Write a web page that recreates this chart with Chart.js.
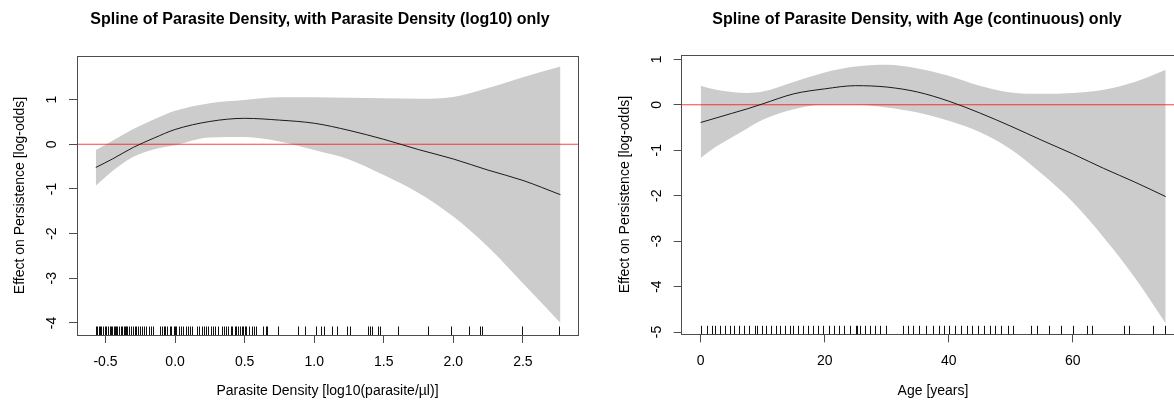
<!DOCTYPE html>
<html>
<head>
<meta charset="utf-8">
<script src="https://cdn.jsdelivr.net/npm/chart.js@4.4.1/dist/chart.umd.min.js"></script>
<style>
  html, body { margin: 0; padding: 0; background: #fff; }
  body { width: 1174px; height: 401px; overflow: hidden; position: relative; }
  canvas { position: absolute; top: 0; }
  #densityChart { left: 0; }
  #ageChart { left: 590px; }
</style>
</head>
<body>
<canvas id="densityChart" width="640" height="401"></canvas>
<canvas id="ageChart" width="654" height="401"></canvas>
<script>
// left panel: spline of log10 parasite density
var densityX     = [-0.57, -0.45, -0.3, -0.15, 0, 0.25, 0.5, 0.75, 1.0, 1.25, 1.5, 1.75, 2.0, 2.25, 2.5, 2.77];
var densityFit   = [-0.52, -0.33, -0.07, 0.14, 0.33, 0.51, 0.58, 0.54, 0.47, 0.31, 0.11, -0.12, -0.33, -0.58, -0.81, -1.13];
var densityUpper = [-0.13, 0.08, 0.34, 0.56, 0.75, 0.92, 0.99, 1.05, 1.05, 1.04, 1.03, 1.02, 1.06, 1.26, 1.50, 1.74];
var densityLower = [-0.93, -0.60, -0.28, -0.11, -0.02, 0.15, 0.16, 0.06, -0.13, -0.34, -0.69, -1.09, -1.62, -2.30, -3.11, -4.0];
var densityRug = [
  -0.572, -0.56, -0.55, -0.54, -0.53, -0.52, -0.505, -0.495, -0.48, -0.47, -0.46, -0.45,
  -0.44, -0.43, -0.425, -0.415, -0.40, -0.39, -0.38, -0.37, -0.36, -0.35, -0.345, -0.33,
  -0.32, -0.30, -0.29, -0.28, -0.265, -0.25, -0.24, -0.22, -0.21, -0.19, -0.175, -0.16,
  -0.11, -0.095, -0.08, -0.07, -0.055, -0.04, -0.03, -0.01, 0.0, 0.01, 0.03, 0.045,
  0.06, 0.08, 0.09, 0.105, 0.12, 0.155, 0.17, 0.19, 0.21, 0.22, 0.24, 0.26, 0.27, 0.29,
  0.31, 0.335, 0.35, 0.365, 0.38, 0.40, 0.41, 0.43, 0.44, 0.455, 0.47, 0.48, 0.49, 0.50,
  0.51, 0.53, 0.55, 0.565, 0.585, 0.635, 0.65, 0.66, 0.742, 0.886, 0.934, 1.011, 1.049,
  1.073, 1.126, 1.162, 1.234, 1.258, 1.389, 1.401, 1.414, 1.461, 1.473, 1.605, 1.821,
  1.984, 2.109, 2.193, 2.205, 2.493, 2.763
];
var densityTicksX = [-0.5, 0, 0.5, 1, 1.5, 2, 2.5];
var densityTicksY = [-4, -3, -2, -1, 0, 1];
var densityLimX = [-0.705, 2.896];
var densityLimY = [-4.27, 1.975];

// right panel: spline of age
var ageX     = [0, 2.5, 5, 7.5, 10, 15, 20, 25, 30, 35, 40, 45, 50, 55, 60, 65, 70, 75];
var ageFit   = [-0.39, -0.29, -0.19, -0.09, 0.02, 0.24, 0.35, 0.42, 0.39, 0.28, 0.08, -0.18, -0.47, -0.78, -1.08, -1.40, -1.70, -2.02];
var ageUpper = [0.42, 0.33, 0.28, 0.26, 0.29, 0.50, 0.71, 0.84, 0.88, 0.80, 0.64, 0.42, 0.27, 0.24, 0.26, 0.33, 0.50, 0.77];
var ageLower = [-1.17, -0.92, -0.72, -0.52, -0.33, -0.10, 0.0, 0.0, -0.06, -0.17, -0.35, -0.60, -0.98, -1.52, -2.14, -2.92, -3.80, -4.81];
var ageRug = [
  0.05, 0.97, 1.77, 2.31, 3.11, 3.92, 4.73, 5.42, 6.23, 6.98, 7.84, 8.76, 9.03, 9.84,
  10.53, 11.34, 12.15, 12.79, 13.6, 14.4, 14.94, 15.74, 16.55, 17.35, 18.16, 18.97,
  19.77, 20.74, 21.55, 22.35, 23.16, 24.08, 25.0, 25.16, 25.69, 26.5, 27.3, 28.1, 28.9,
  29.9, 32.68, 33.48, 34.3, 35.26, 36.3, 37.5, 38.4, 39.3, 40.0, 41.0, 42.0, 42.9, 43.8,
  44.8, 45.7, 46.6, 47.5, 48.5, 49.5, 50.4, 53.3, 54.2, 56.1, 58.1, 60.0, 62.3, 63.1,
  68.2, 69.1, 73.0, 74.9
];
var ageTicksX = [0, 20, 40, 60];
var ageTicksY = [-5, -4, -3, -2, -1, 0, 1];
var ageLimX = [-3.06, 78];
var ageLimY = [-5.05, 1.095];

var FONT = "'Liberation Sans', Arial, Helvetica, sans-serif";
var AXIS_COLOR = '#4d4d4d';

// rug marks along the bottom of the plot region
var rugPlugin = {
  id: 'rug',
  afterDatasetsDraw: function (chart, args, opts) {
    var ctx = chart.ctx;
    var area = chart.chartArea;
    var xs = chart.scales.x;
    ctx.save();
    ctx.strokeStyle = opts.color;
    ctx.lineWidth = 1;
    ctx.beginPath();
    opts.values.forEach(function (v) {
      var px = Math.round(xs.getPixelForValue(v)) + 0.5;
      ctx.moveTo(px, area.bottom);
      ctx.lineTo(px, area.bottom - opts.length);
    });
    ctx.stroke();
    ctx.restore();
  }
};

function toPoints(xs, ys) {
  return xs.map(function (x, i) { return { x: x, y: ys[i] }; });
}

function fixedTicks(values) {
  return function (scale) {
    scale.ticks = values.map(function (v) { return { value: v }; });
  };
}

function drawPanel(id, p) {
  var ctx = document.getElementById(id);
  return new Chart(ctx, {
    type: 'line',
    data: {
      datasets: [
        {
          data: toPoints(p.x, p.upper),
          borderColor: 'rgba(0,0,0,0)', borderWidth: 0,
          backgroundColor: '#cccccc', fill: '+1',
          pointRadius: 0, cubicInterpolationMode: 'monotone', order: 3
        },
        {
          data: toPoints(p.x, p.lower),
          borderColor: 'rgba(0,0,0,0)', borderWidth: 0,
          fill: false, pointRadius: 0, cubicInterpolationMode: 'monotone', order: 3
        },
        {
          data: [{ x: p.limX[0], y: 0 }, { x: p.limX[1], y: 0 }],
          borderColor: 'rgba(255,0,0,0.75)', borderWidth: 1.2,
          fill: false, pointRadius: 0, order: 2
        },
        {
          data: toPoints(p.x, p.fit),
          borderColor: '#1a1a1a', borderWidth: 1,
          fill: false, pointRadius: 0, cubicInterpolationMode: 'monotone', order: 1
        }
      ]
    },
    options: {
      responsive: false,
      animation: false,
      events: [],
      layout: { padding: 0 },
      plugins: {
        legend: { display: false },
        tooltip: { enabled: false },
        title: {
          display: true,
          text: p.title,
          color: '#000',
          font: { family: FONT, size: 16, weight: 'bold' },
          padding: { top: 9.9, bottom: p.titleGap }
        },
        rug: { values: p.rug, length: 8.5, color: '#111' }
      },
      scales: {
        x: {
          type: 'linear', position: 'bottom',
          min: p.limX[0], max: p.limX[1],
          afterBuildTicks: fixedTicks(p.ticksX),
          afterFit: function (s) { s.height = p.bottomH; },
          grid: { display: true, drawOnChartArea: false, drawTicks: true, tickLength: 8, color: AXIS_COLOR },
          border: { display: true, color: AXIS_COLOR, width: 1 },
          ticks: {
            color: '#000', autoSkip: false, maxRotation: 0, padding: 10.5,
            font: { family: FONT, size: 14 },
            callback: p.formatX
          },
          title: {
            display: true, text: p.xLabel, color: '#000',
            font: { family: FONT, size: 14 },
            padding: { top: 0, bottom: 1.6 }
          }
        },
        y: {
          type: 'linear', position: 'left',
          min: p.limY[0], max: p.limY[1],
          afterBuildTicks: fixedTicks(p.ticksY),
          afterFit: function (s) { s.width = p.leftW; },
          grid: { display: true, drawOnChartArea: false, drawTicks: true, tickLength: 8, color: AXIS_COLOR },
          border: { display: true, color: AXIS_COLOR, width: 1 },
          ticks: {
            color: '#000', autoSkip: false, minRotation: 90, maxRotation: 90,
            crossAlign: 'center', padding: p.yTickPad,
            font: { family: FONT, size: 14 },
            callback: function (v) { return String(v); }
          },
          title: {
            display: true, text: 'Effect on Persistence [log-odds]', color: '#000',
            font: { family: FONT, size: 14 },
            padding: { top: p.yTitlePad, bottom: 0 }
          }
        },
        xTop: {
          type: 'linear', axis: 'x', position: 'top',
          afterFit: function (s) { s.height = 0; },
          grid: { display: false },
          border: { display: true, color: AXIS_COLOR, width: 1 },
          ticks: { display: false }
        },
        yRight: {
          type: 'linear', axis: 'y', position: 'right',
          afterFit: function (s) { s.width = p.rightW; },
          grid: { display: false },
          border: { display: true, color: AXIS_COLOR, width: 1 },
          ticks: { display: false }
        }
      }
    },
    plugins: [rugPlugin]
  });
}

drawPanel('densityChart', {
  title: 'Spline of Parasite Density, with Parasite Density (log10) only',
  xLabel: 'Parasite Density [log10(parasite/\u00b5l)]',
  x: densityX, fit: densityFit, upper: densityUpper, lower: densityLower, rug: densityRug,
  ticksX: densityTicksX, ticksY: densityTicksY, limX: densityLimX, limY: densityLimY,
  formatX: function (v) { return v.toFixed(1); },
  titleGap: 26.9, bottomH: 66, leftW: 77, rightW: 62, yTickPad: 11.1, yTitlePad: 11.6
});

drawPanel('ageChart', {
  title: 'Spline of Parasite Density, with Age (continuous) only',
  xLabel: 'Age [years]',
  x: ageX, fit: ageFit, upper: ageUpper, lower: ageLower, rug: ageRug,
  ticksX: ageTicksX, ticksY: ageTicksY, limX: ageLimX, limY: ageLimY,
  formatX: function (v) { return String(v); },
  titleGap: 25.9, bottomH: 66.7, leftW: 91.7, rightW: 59.7, yTickPad: 10, yTitlePad: 26.6
});
</script>
</body>
</html>
